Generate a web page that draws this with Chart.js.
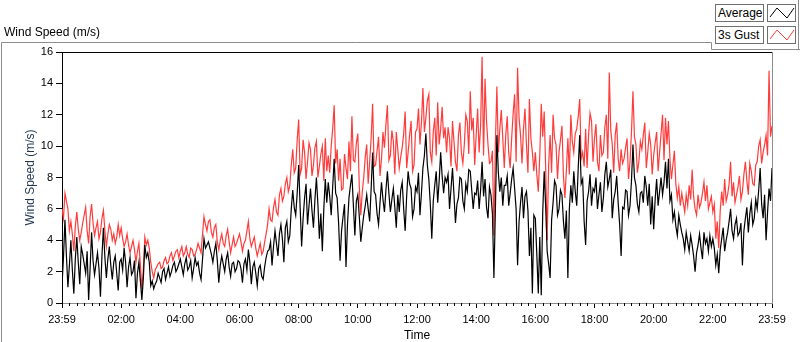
<!DOCTYPE html>
<html>
<head>
<meta charset="utf-8">
<script src="https://cdn.jsdelivr.net/npm/chart.js@4.4.1/dist/chart.umd.min.js"></script>
<style>
  body { margin: 0; background: #fff; }
  #wrap { position: relative; width: 800px; height: 342px; font-family: "Liberation Sans", Arial, sans-serif; color: #000; }
  #chart { position: absolute; left: 0; top: 0; }
  #topLabel { position: absolute; left: 4px; top: 25px; font-size: 12px; line-height: 14px; }
  .legTxt { position: absolute; left: 715px; width: 49px; height: 18px; border: 1px solid #707070; background: #fff;
            box-sizing: border-box; font-size: 12px; line-height: 16px; padding-left: 2px; }
  .legSw { position: absolute; left: 767px; width: 29px; height: 18px; border: 1px solid #707070; background: #fff; box-sizing: border-box; }
  .legSw svg { position: absolute; left: 0; top: 0; }
</style>
</head>
<body>
<div id="wrap">
  <canvas id="chart" width="800" height="342"></canvas>
  <div id="topLabel">Wind Speed (m/s)</div>
  <div class="legTxt" style="top:4px">Average</div>
  <div class="legSw" style="top:4px"><svg width="27" height="16"><polyline points="2,12 9,3 19,13 26,3" fill="none" stroke="#000" stroke-width="1"/></svg></div>
  <div class="legTxt" style="top:26px">3s Gust</div>
  <div class="legSw" style="top:26px"><svg width="27" height="16"><polyline points="2,12 9,3 19,13 26,3" fill="none" stroke="#ff3c3c" stroke-width="1"/></svg></div>
</div>
<script>
// one sample every 3 minutes, 23:59 -> 23:59 (20 per row = 1 hour)
const stepMinutes = 3;

const gust = [
  6.0, 5.4, 7.0, 6.5, 6.0, 4.6, 5.2, 4.4, 3.3, 4.9, 5.8, 4.7, 4.0, 4.5, 5.1, 5.6, 6.1, 4.6, 3.8, 5.5,
  6.3, 5.1, 4.3, 4.8, 5.2, 4.1, 4.5, 5.4, 5.9, 4.6, 3.6, 4.4, 5.0, 4.7, 4.0, 4.4, 3.8, 4.2, 5.0, 4.3,
  4.8, 4.1, 3.6, 3.9, 4.4, 3.7, 3.2, 3.6, 4.0, 3.4, 2.6, 3.3, 3.8, 2.4, 0.9, 2.2, 4.2, 3.7, 4.0, 3.5,
  2.6, 2.0, 1.6, 2.1, 2.3, 2.5, 2.6, 2.2, 2.3, 2.7, 2.9, 2.5, 2.6, 3.0, 3.2, 2.7, 3.0, 3.3, 3.4, 2.9,
  3.3, 3.6, 3.0, 3.2, 3.6, 3.1, 2.9, 3.5, 3.4, 3.0, 3.1, 3.4, 3.8, 3.5, 3.2, 4.4, 5.5, 5.0, 4.6, 5.2,
  5.3, 4.5, 4.2, 4.8, 5.0, 3.9, 3.4, 4.0, 4.4, 3.8, 3.6, 4.3, 4.7, 3.9, 3.2, 3.7, 4.2, 3.6, 3.8, 4.1,
  4.4, 3.9, 3.3, 3.8, 4.0, 4.6, 5.2, 4.1, 3.6, 3.9, 4.2, 3.5, 3.0, 3.4, 3.8, 3.1, 3.3, 3.9, 4.4, 5.0,
  6.0, 5.3, 5.2, 6.1, 6.6, 5.8, 5.6, 6.9, 7.3, 6.5, 6.8, 7.6, 8.0, 7.1, 7.5, 8.8, 9.8, 8.3, 8.6, 10.4,
  11.7, 8.2, 8.6, 10.4, 9.6, 7.9, 9.0, 10.2, 9.8, 8.1, 8.8, 9.9, 10.3, 8.0, 8.7, 9.5, 10.0, 7.8, 10.5, 8.4,
  9.4, 8.3, 10.0, 11.1, 12.6, 8.9, 9.8, 7.8, 9.2, 7.2, 7.3, 9.5, 8.6, 7.9, 10.3, 8.4, 11.9, 9.1, 9.0, 10.2,
  10.8, 7.4, 5.6, 7.1, 8.0, 9.3, 10.1, 7.6, 9.0, 10.5, 12.7, 8.7, 8.8, 9.7, 10.6, 8.1, 9.2, 10.9, 9.9, 11.4,
  12.6, 9.1, 9.4, 11.0, 10.3, 8.2, 10.9, 9.8, 8.6, 9.3, 9.9, 10.8, 12.2, 8.6, 9.6, 10.7, 11.6, 8.4, 8.8, 10.9,
  11.1, 12.4, 10.1, 11.5, 13.7, 10.9, 11.8, 12.9, 13.3, 9.6, 9.0, 10.9, 11.8, 9.4, 12.8, 10.1, 11.1, 12.5, 10.5, 11.2,
  9.6, 11.2, 10.5, 8.7, 11.6, 10.3, 9.0, 8.4, 10.7, 11.5, 9.6, 8.9, 10.1, 12.0, 11.6, 9.5, 13.5, 11.0, 11.8, 8.8,
  10.7, 12.4, 9.6, 11.3, 15.7, 9.4, 14.3, 11.6, 10.1, 8.9, 9.0, 9.7, 4.3, 10.2, 13.8, 9.6, 11.1, 12.3, 10.5, 8.6,
  10.7, 11.9, 9.6, 8.6, 10.5, 12.1, 13.3, 9.0, 15.0, 11.8, 10.7, 8.9, 11.1, 12.4, 10.1, 8.3, 13.0, 10.5, 9.6, 8.4,
  9.6, 8.2, 7.1, 9.4, 12.7, 10.6, 12.2, 8.6, 4.0, 8.8, 10.7, 8.3, 12.0, 10.5, 10.1, 7.9, 9.6, 10.4, 11.3, 8.1,
  6.7, 8.5, 10.5, 8.2, 12.0, 10.3, 9.6, 10.8, 11.1, 11.9, 13.0, 9.2, 9.6, 8.7, 11.1, 8.6, 10.7, 12.1, 11.6, 9.0,
  10.5, 11.4, 9.0, 8.4, 10.7, 9.4, 9.6, 11.2, 12.0, 9.2, 14.7, 11.0, 10.1, 8.3, 10.7, 11.5, 9.2, 8.4, 9.8, 8.9,
  9.2, 9.9, 10.5, 7.9, 9.0, 10.9, 13.5, 10.6, 10.1, 8.3, 9.0, 10.3, 9.8, 10.7, 11.5, 8.6, 9.6, 10.8, 10.1, 8.2,
  9.4, 10.2, 10.9, 8.4, 9.6, 10.8, 12.0, 9.1, 11.8, 10.1, 11.6, 9.2, 7.9, 8.8, 9.7, 7.6, 6.7, 7.4, 6.2, 7.0,
  6.4, 5.8, 6.9, 6.2, 7.5, 6.6, 8.5, 6.8, 6.0, 5.6, 6.9, 6.1, 6.4, 7.0, 7.7, 6.5, 7.5, 6.0, 6.4, 6.8,
  5.8, 6.3, 4.1, 5.2, 3.5, 5.9, 7.1, 6.2, 7.9, 6.5, 6.9, 7.6, 9.0, 6.8, 7.7, 6.4, 6.9, 7.4, 8.1, 6.6,
  7.1, 8.2, 9.0, 7.8, 6.9, 8.9, 8.4, 7.6, 7.5, 8.8, 9.0, 10.0, 10.4, 8.9, 9.6, 10.1, 10.7, 9.4, 14.8, 10.6,
  11.3
];

const average = [
  1.1, 2.9, 5.3, 3.0, 1.0, 2.4, 4.0, 2.1, 0.6, 2.8, 4.2, 2.6, 1.2, 3.6, 3.1, 2.5, 1.9, 3.3, 0.2, 2.2,
  4.5, 2.7, 1.8, 2.5, 3.2, 2.2, 0.4, 3.0, 4.8, 2.9, 1.6, 2.8, 3.6, 2.4, 1.5, 2.6, 3.0, 1.9, 0.8, 2.6,
  2.8, 2.1, 3.5, 2.6, 1.0, 2.3, 2.9, 1.8, 2.0, 2.7, 0.3, 1.9, 2.6, 1.4, 0.2, 1.6, 3.7, 2.9, 3.2, 2.6,
  1.1, 1.4, 0.9, 1.2, 1.4, 1.9, 1.6, 1.3, 2.0, 2.2, 1.5, 1.9, 2.3, 1.7, 2.0, 2.4, 2.6, 2.0, 2.2, 2.5,
  2.8, 2.3, 1.8, 2.5, 2.9, 2.1, 2.3, 2.7, 1.6, 2.2, 2.9, 2.4, 2.6, 1.9, 1.5, 2.8, 4.1, 3.5, 3.7, 3.9,
  3.5, 3.1, 2.6, 3.3, 3.8, 2.7, 1.3, 2.4, 3.0, 2.5, 2.0, 2.8, 3.2, 2.3, 1.7, 2.5, 2.6, 2.0, 2.2, 2.7,
  2.6, 2.2, 1.3, 2.5, 2.8, 2.1, 3.4, 2.6, 1.2, 2.3, 2.6, 1.9, 1.1, 2.2, 2.4, 1.7, 1.5, 2.3, 2.9, 3.3,
  3.4, 3.9, 2.4, 3.6, 4.6, 3.8, 3.0, 4.4, 5.0, 4.1, 2.6, 4.8, 5.2, 3.9, 4.3, 6.0, 7.2, 6.1, 5.6, 7.0,
  8.8, 6.1, 3.6, 5.4, 6.7, 7.6, 5.0, 6.2, 7.3, 5.9, 4.8, 6.6, 8.0, 6.3, 4.1, 5.7, 3.3, 6.0, 7.9, 6.4,
  7.7, 6.8, 5.6, 7.4, 9.2, 7.0, 6.7, 5.1, 2.7, 4.6, 5.5, 6.3, 2.3, 5.0, 6.7, 7.5, 8.2, 6.2, 4.3, 6.5,
  6.9, 5.5, 3.9, 4.8, 5.6, 6.2, 6.9, 6.0, 5.2, 7.3, 9.6, 7.1, 6.9, 5.7, 5.0, 6.4, 7.7, 6.6, 5.8, 7.2,
  8.4, 7.0, 5.8, 6.6, 7.3, 6.1, 4.8, 6.9, 5.8, 7.2, 7.7, 6.0, 4.6, 6.8, 8.4, 7.6, 7.3, 5.5, 6.0, 7.4,
  7.1, 8.3, 5.6, 7.0, 8.6, 9.4, 10.8, 8.8, 7.9, 6.3, 4.1, 6.5, 7.5, 8.4, 6.4, 7.8, 9.6, 8.1, 7.0, 8.0,
  7.7, 8.2, 6.0, 7.3, 8.6, 6.9, 5.1, 6.3, 6.7, 8.0, 7.9, 6.5, 6.0, 7.6, 7.1, 8.5, 8.4, 7.2, 6.0, 7.0,
  6.9, 7.8, 6.0, 7.2, 9.0, 6.8, 7.9, 6.1, 5.4, 7.4, 6.9, 5.7, 1.6, 6.0, 10.7, 8.3, 7.1, 8.0, 6.2, 7.5,
  7.5, 8.1, 6.2, 7.0, 7.9, 8.6, 7.3, 6.0, 2.4, 5.2, 6.4, 7.4, 5.4, 6.8, 7.1, 5.9, 3.0, 4.8, 0.6, 5.6,
  5.4, 3.1, 0.6, 4.2, 0.5, 5.8, 8.4, 6.1, 3.3, 2.5, 1.6, 5.3, 6.4, 7.8, 7.5, 5.6, 6.0, 7.2, 6.9, 5.2,
  4.1, 5.9, 1.6, 6.0, 7.5, 6.4, 8.4, 7.1, 6.2, 8.6, 10.7, 7.6, 7.9, 5.2, 3.7, 6.5, 7.1, 8.2, 6.2, 7.3,
  7.1, 8.0, 6.0, 6.9, 7.7, 5.8, 6.7, 8.2, 9.0, 7.4, 7.9, 8.5, 5.4, 6.6, 7.1, 8.1, 6.4, 5.0, 3.0, 6.1,
  6.0, 7.2, 7.1, 5.6, 6.2, 7.8, 10.1, 8.0, 7.5, 6.3, 5.8, 7.0, 7.1, 6.4, 8.1, 7.4, 6.2, 7.6, 5.0, 6.8,
  4.7, 6.6, 7.9, 6.2, 7.1, 8.0, 6.9, 7.7, 9.0, 7.3, 9.2, 6.5, 6.9, 5.3, 5.8, 4.9, 4.3, 5.6, 5.0, 4.5,
  4.1, 3.4, 4.5, 3.9, 3.3, 4.3, 3.7, 3.0, 2.0, 3.2, 3.7, 4.4, 3.5, 2.8, 4.5, 3.8, 4.1, 3.3, 4.3, 3.6,
  4.1, 3.5, 2.4, 3.1, 1.9, 3.4, 4.1, 4.8, 3.3, 4.0, 4.5, 5.2, 6.0, 4.6, 4.1, 5.0, 5.4, 4.3, 4.5, 5.1,
  2.4, 4.6, 5.4, 6.1, 4.5, 5.7, 6.4, 5.0, 5.4, 6.6, 6.0, 7.2, 8.6, 6.3, 5.4, 6.9, 4.0, 5.8, 7.3, 6.5,
  8.6
];

const xTickMinutes = [0, 120, 240, 360, 480, 600, 720, 840, 960, 1080, 1200, 1320, 1440];
const xTickLabels = ["23:59", "02:00", "04:00", "06:00", "08:00", "10:00", "12:00",
                     "14:00", "16:00", "18:00", "20:00", "22:00", "23:59"];
const yTicks = [0, 2, 4, 6, 8, 10, 12, 14, 16];

const toPoints = arr => arr.map((v, i) => ({ x: i * stepMinutes, y: v }));

// panel outline, minor x ticks every 15 min, top/right frame
const framePlugin = {
  id: "frame",
  beforeDraw(chart) {
    const ctx = chart.ctx;
    ctx.save();
    ctx.strokeStyle = "#8c8c8c";
    ctx.lineWidth = 1;
    ctx.beginPath();
    ctx.moveTo(1.5, 342);
    ctx.lineTo(1.5, 42.5);
    ctx.lineTo(711.5, 42.5);
    ctx.lineTo(711.5, 49.5);
    ctx.lineTo(800, 49.5);
    ctx.moveTo(798.5, 0);
    ctx.lineTo(798.5, 49.5);
    ctx.stroke();
    ctx.restore();
  },
  afterDraw(chart) {
    const { ctx, chartArea: a, scales: { x } } = chart;
    ctx.save();
    ctx.lineWidth = 1;
    ctx.strokeStyle = "#000";
    ctx.beginPath();
    for (let m = 15; m < 1440; m += 15) {
      if (m % 120 === 0) continue;
      const px = Math.round(x.getPixelForValue(m)) + 0.5;
      ctx.moveTo(px, a.bottom);
      ctx.lineTo(px, a.bottom + 3);
    }
    ctx.moveTo(a.left, a.top + 0.5);
    ctx.lineTo(a.right, a.top + 0.5);
    ctx.stroke();
    ctx.strokeStyle = "#8c8c8c";
    ctx.beginPath();
    ctx.moveTo(a.right + 0.5, a.top);
    ctx.lineTo(a.right + 0.5, a.bottom + 1);
    ctx.stroke();
    ctx.restore();
  }
};

new Chart(document.getElementById("chart"), {
  type: "line",
  data: {
    datasets: [
      {
        label: "Average",
        data: toPoints(average),
        borderColor: "#000",
        borderWidth: 1.2,
        pointRadius: 0,
        tension: 0
      },
      {
        label: "3s Gust",
        data: toPoints(gust),
        borderColor: "#ff3c3c",
        borderWidth: 1.2,
        pointRadius: 0,
        tension: 0
      }
    ]
  },
  options: {
    responsive: false,
    animation: false,
    events: [],
    layout: { padding: { top: 52, right: 28, left: 0, bottom: 0 } },
    plugins: { legend: { display: false }, tooltip: { enabled: false } },
    scales: {
      x: {
        type: "linear",
        min: 0,
        max: 1440,
        afterFit: s => { s.height = 39; },
        afterBuildTicks: s => { s.ticks = xTickMinutes.map(v => ({ value: v })); },
        ticks: {
          autoSkip: false,
          maxRotation: 0,
          padding: 5,
          color: "#000",
          font: { family: "Liberation Sans", size: 11 },
          callback: v => xTickLabels[xTickMinutes.indexOf(v)]
        },
        grid: { drawOnChartArea: false, tickLength: 5, tickColor: "#000" },
        border: { color: "#8c8c8c" },
        title: {
          display: true,
          text: "Time",
          color: "#000",
          font: { family: "Liberation Sans", size: 12 },
          padding: { top: 0, bottom: -1 }
        }
      },
      y: {
        min: 0,
        max: 16,
        afterFit: s => { s.width = 62; },
        afterBuildTicks: s => { s.ticks = yTicks.map(v => ({ value: v })); },
        ticks: {
          padding: 3,
          color: "#000",
          font: { family: "Liberation Sans", size: 11 }
        },
        grid: { drawOnChartArea: false, tickLength: 6, tickColor: "#000" },
        border: { color: "#000" },
        title: {
          display: true,
          text: "Wind Speed (m/s)",
          color: "#1f3550",
          font: { family: "Liberation Sans", size: 12 },
          padding: { top: 23, bottom: 0 }
        }
      }
    }
  },
  plugins: [framePlugin]
});
</script>
</body>
</html>
